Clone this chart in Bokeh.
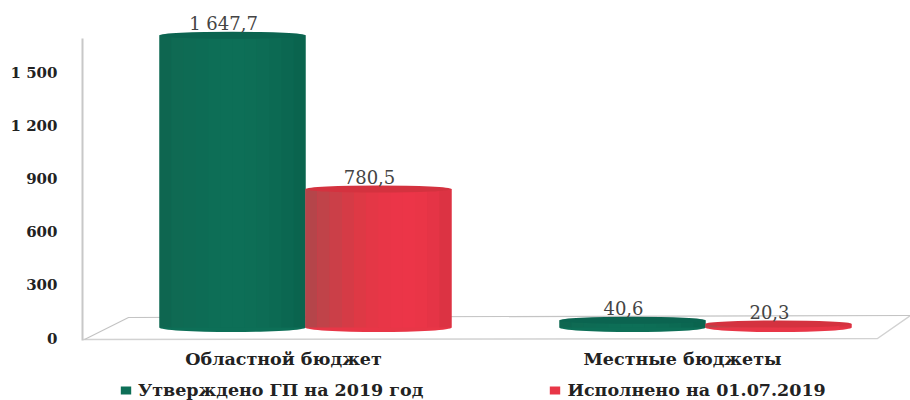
from bokeh.plotting import figure
from bokeh.models import Range1d, FixedTicker, Legend, LegendItem, LinearAxis
from bokeh.core.properties import value
from bokeh.embed import file_html
from bokeh.resources import INLINE

categories = ["Областной бюджет", "Местные бюджеты"]
series_names = ["Утверждено ГП на 2019 год", "Исполнено на 01.07.2019"]
approved = [1647.7, 40.6]
executed = [780.5, 20.3]
approved_labels = ["1 647,7", "40,6"]
executed_labels = ["780,5", "20,3"]
y_ticks = [0, 300, 600, 900, 1200, 1500]
y_tick_labels = ["0", "300", "600", "900", "1 200", "1 500"]

GREEN_STRIPS = ["#0e6650", "#0f6a53", "#0e6b54", "#0d6c55", "#0d6e56", "#0d6f57",
                "#0d6f57", "#0d6e56", "#0d6c55", "#0c6a53", "#0b6751", "#0a644e"]
RED_STRIPS = ["#b5454a", "#c04349", "#cb3f48", "#d53b46", "#de3945", "#e43746",
              "#e83647", "#eb3548", "#ec3548", "#ea3547", "#e53446", "#dc3343"]
FONT = "DejaVu Serif"
PX_PER_UNIT = 53.2 / 300        # vertical scale of the reference
PX_PER_GROUP = 400
DEPTH = 62                      # bars stand on the middle of the 3D floor
BAR_W = 146 / PX_PER_GROUP
FRAME_L, FRAME_R, FRAME_T, FRAME_B = 82, 910, 8, 400


def xd(px):
    return (px - 305) / PX_PER_GROUP


def yd(px):
    return (338 - px) / PX_PER_UNIT


p = figure(width=910, height=400, output_backend="svg", toolbar_location=None,
           x_range=Range1d(xd(FRAME_L), xd(FRAME_R)), y_range=Range1d(yd(FRAME_B), yd(FRAME_T)),
           x_axis_type=None, y_axis_type=None,
           min_border_left=FRAME_L, min_border_right=0, min_border_top=FRAME_T,
           min_border_bottom=0,
           frame_width=FRAME_R - FRAME_L, frame_height=FRAME_B - FRAME_T)
p.outline_line_color = None
p.grid.visible = False

# 3D floor
p.line([xd(82), xd(877), xd(910)], [yd(339), yd(338), yd(315)], line_color="#d2d2d2", line_width=1.5)
p.line([xd(84), xd(128), xd(910)], [yd(339), yd(317), yd(315)], line_color="#c4c4c4", line_width=1.2)

# cylinders
renderers = []
for vals, labels, strips, side in ((approved, approved_labels, GREEN_STRIPS, -1),
                                   (executed, executed_labels, RED_STRIPS, 1)):
    base_col = strips[len(strips) // 2]
    xs = [i + side * BAR_W / 2 for i in range(len(vals))]
    tops = [v + DEPTH for v in vals]
    p.ellipse(xs, [DEPTH] * len(vals), width=BAR_W, height=9, height_units="screen",
              fill_color=base_col, line_color=None)
    r = p.vbar(xs, width=BAR_W, bottom=DEPTH, top=tops, fill_color=base_col, line_color=None)
    renderers.append(r)
    n = len(strips)
    for k, col in enumerate(strips):
        sx = [x - BAR_W / 2 + (k + 0.5) * BAR_W / n for x in xs]
        p.vbar(sx, width=BAR_W / n, bottom=DEPTH, top=tops, fill_color=col, line_color=None)
    top_col = "#0b6450" if side < 0 else "#d4323f"
    p.ellipse(xs, tops, width=BAR_W, height=7, height_units="screen",
              fill_color=top_col, line_color=None)
    p.text(xs, tops, text=labels, text_font=value(FONT), text_font_size="18px",
           text_color="#444444", text_align="center", text_baseline="middle",
           x_offset=-9, y_offset=-12)

# axes
yax = LinearAxis(ticker=FixedTicker(ticks=y_ticks),
                 major_label_overrides=dict(zip(y_ticks, y_tick_labels)),
                 bounds=(yd(340), yd(38)))
yax.axis_line_color = "#c8c8c8"
yax.axis_line_width = 2
yax.major_tick_line_color = None
yax.minor_tick_line_color = None
yax.major_label_standoff = 19
yax.major_label_text_font = FONT
yax.major_label_text_font_size = "15px"
yax.major_label_text_font_style = "bold"
yax.major_label_text_color = "#222222"
p.add_layout(yax, "left")

# category labels sit left of the groups, under the 3D floor
p.text([xd(283), xd(682)], [yd(358), yd(358)], text=categories,
       text_font=value(FONT), text_font_size="17.5px", text_font_style="bold",
       text_color="#222222", text_align="center", text_baseline="middle")

legend = Legend(items=[LegendItem(label=series_names[0], renderers=[renderers[0]]),
                       LegendItem(label=series_names[1], renderers=[renderers[1]])],
                orientation="horizontal", location=(119 - FRAME_L, 0), spacing=125,
                border_line_color=None, background_fill_alpha=0,
                glyph_width=13, glyph_height=10, label_standoff=6,
                margin=0, padding=0,
                label_text_font=FONT, label_text_font_size="17.5px",
                label_text_font_style="bold", label_text_color="#222222")
p.add_layout(legend, "center")

open("out.html", "w").write(file_html(p, INLINE))
